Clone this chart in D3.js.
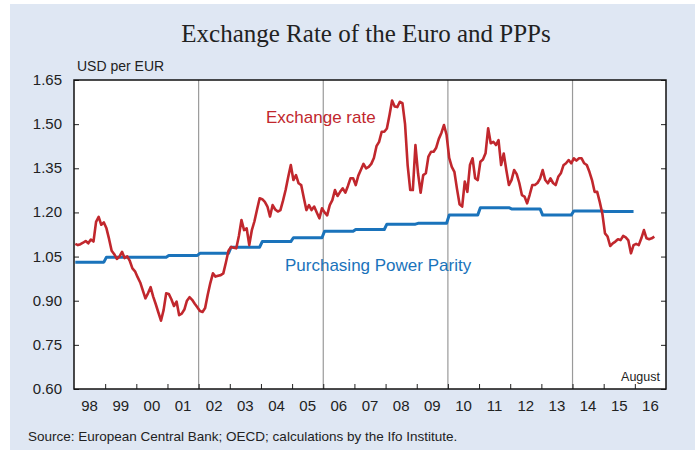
<!DOCTYPE html>
<html>
<head>
<meta charset="utf-8">
<script src="https://cdn.jsdelivr.net/npm/d3@7"></script>
<style>
html,body{margin:0;padding:0;background:#ffffff;}
svg{display:block;}
</style>
</head>
<body>
<svg id="chart" width="695" height="450"></svg>
<script>
// ---- data ----
const startYear = 1998;
const yearLabels = ["98","99","00","01","02","03","04","05","06","07","08","09","10","11","12","13","14","15","16"];
const yTicks = [0.60, 0.75, 0.90, 1.05, 1.20, 1.35, 1.50, 1.65];
const gridYears = [2002, 2006, 2010, 2014];
// monthly USD per EUR, Jan 1998 - Aug 2016
const exchangeRate = [
  1.093,1.089,1.092,1.097,1.103,1.095,1.108,1.101,1.168,1.185,1.158,1.166,
  1.146,1.110,1.070,1.058,1.042,1.050,1.066,1.045,1.051,1.035,1.010,1.000,
  0.980,0.962,0.935,0.908,0.925,0.946,0.914,0.888,0.860,0.832,0.868,0.925,
  0.923,0.905,0.882,0.897,0.851,0.856,0.870,0.900,0.912,0.903,0.890,0.878,
  0.865,0.862,0.875,0.920,0.960,0.993,0.982,0.985,0.987,0.993,1.030,1.070,
  1.083,1.080,1.078,1.120,1.174,1.140,1.146,1.089,1.140,1.170,1.210,1.248,
  1.245,1.236,1.220,1.186,1.225,1.210,1.203,1.208,1.240,1.276,1.320,1.361,
  1.310,1.327,1.299,1.293,1.250,1.208,1.225,1.208,1.220,1.200,1.180,1.214,
  1.200,1.190,1.225,1.242,1.276,1.256,1.270,1.282,1.267,1.290,1.316,1.316,
  1.293,1.325,1.345,1.365,1.350,1.355,1.365,1.385,1.425,1.440,1.474,1.474,
  1.485,1.530,1.580,1.560,1.558,1.576,1.571,1.500,1.360,1.276,1.276,1.429,
  1.333,1.267,1.327,1.333,1.390,1.406,1.406,1.420,1.450,1.470,1.497,1.463,
  1.385,1.355,1.338,1.280,1.228,1.220,1.305,1.270,1.361,1.384,1.316,1.310,
  1.372,1.380,1.401,1.486,1.435,1.440,1.429,1.446,1.361,1.400,1.344,1.293,
  1.310,1.344,1.330,1.300,1.259,1.254,1.231,1.260,1.293,1.293,1.300,1.315,
  1.344,1.310,1.299,1.316,1.300,1.293,1.321,1.333,1.360,1.367,1.378,1.367,
  1.384,1.376,1.384,1.384,1.367,1.361,1.338,1.310,1.270,1.270,1.235,1.195,
  1.129,1.118,1.086,1.095,1.101,1.109,1.106,1.120,1.115,1.105,1.061,1.089,
  1.093,1.089,1.112,1.140,1.112,1.109,1.112,1.118
];
// annual purchasing power parity, 1998 - 2015
const pppYears = [1998,1999,2000,2001,2002,2003,2004,2005,2006,2007,2008,2009,2010,2011,2012,2013,2014,2015];
const pppValues = [1.031,1.048,1.048,1.054,1.061,1.082,1.101,1.114,1.136,1.142,1.160,1.163,1.191,1.216,1.212,1.191,1.205,1.203];

// ---- layout ----
const svg = d3.select("#chart");
const L = 74, R = 666, T = 80, B = 389;
const x = d3.scaleLinear().domain([1998, 2017]).range([L, R]);
const y = d3.scaleLinear().domain([0.60, 1.65]).range([B, T]);
const SANS = "'Liberation Sans',Arial,sans-serif";

svg.append("rect").attr("x",10).attr("y",4).attr("width",685).attr("height",446).attr("fill","#dfe7f3");
svg.append("rect").attr("x",L).attr("y",T).attr("width",R-L).attr("height",B-T).attr("fill","#ffffff");

// title
svg.append("text").attr("x",366).attr("y",42).attr("text-anchor","middle")
  .attr("font-family","'Liberation Serif','Times New Roman',serif").attr("font-size",25).attr("fill","#222")
  .text("Exchange Rate of the Euro and PPPs");
svg.append("text").attr("x",77).attr("y",70.5)
  .attr("font-family",SANS).attr("font-size",14).attr("fill","#222")
  .text("USD per EUR");

// grid lines
svg.append("g").selectAll("line").data(gridYears).join("line")
  .attr("x1",d=>x(d)).attr("x2",d=>x(d)).attr("y1",T).attr("y2",B)
  .attr("stroke","#9a9a9a").attr("stroke-width",1.2);

// y axes
const yAxisL = d3.axisRight(y).tickValues(yTicks).tickSize(5).tickFormat("");
const gL = svg.append("g").attr("transform",`translate(${L},0)`).call(yAxisL);
const yAxisR = d3.axisLeft(y).tickValues(yTicks).tickSize(5).tickFormat("");
const gR = svg.append("g").attr("transform",`translate(${R},0)`).call(yAxisR);
[gL,gR].forEach(g=>{ g.select(".domain").remove(); g.selectAll("line").attr("stroke","#222"); });

svg.append("g").selectAll("text").data(yTicks).join("text")
  .attr("x",62).attr("y",d=>y(d)+5).attr("text-anchor","end")
  .attr("font-family",SANS).attr("font-size",15).attr("fill","#222")
  .text(d=>d3.format(".2f")(d));

// x axis
const yearTicks = d3.range(1999, 2017);
const xAxis = d3.axisTop(x).tickValues(yearTicks).tickSize(5).tickFormat("");
const gX = svg.append("g").attr("transform",`translate(0,${B})`).call(xAxis);
gX.select(".domain").remove();
gX.selectAll("line").attr("stroke","#222");
svg.append("g").selectAll("text").data(yearLabels).join("text")
  .attr("x",(d,i)=>x(startYear+i+0.5)).attr("y",411).attr("text-anchor","middle")
  .attr("font-family",SANS).attr("font-size",15).attr("fill","#222")
  .text(d=>d);

// frame
svg.append("rect").attr("x",L).attr("y",T).attr("width",R-L).attr("height",B-T)
  .attr("fill","none").attr("stroke","#111").attr("stroke-width",1.5);

// PPP line
const pppPoints = [];
pppYears.forEach((yr,i)=>{
  pppPoints.push([yr + 0.5/12, pppValues[i]]);
  pppPoints.push([yr + 11.5/12, pppValues[i]]);
});
const line = d3.line().x(d=>x(d[0])).y(d=>y(d[1]));
svg.append("path").attr("d",line(pppPoints)).attr("fill","none")
  .attr("stroke","#1a73bb").attr("stroke-width",3).attr("stroke-linejoin","round");

// exchange rate
const erPoints = exchangeRate.map((v,i)=>[startYear + (i+0.5)/12, v]);
svg.append("path").attr("d",line(erPoints)).attr("fill","none")
  .attr("stroke","#c1272d").attr("stroke-width",2.6).attr("stroke-linejoin","round");

// labels
svg.append("text").attr("x",266).attr("y",123)
  .attr("font-family",SANS).attr("font-size",17).attr("fill","#c1272d")
  .text("Exchange rate");
svg.append("text").attr("x",285).attr("y",271)
  .attr("font-family",SANS).attr("font-size",17).attr("fill","#1a73bb")
  .text("Purchasing Power Parity");
svg.append("text").attr("x",660).attr("y",381).attr("text-anchor","end")
  .attr("font-family",SANS).attr("font-size",12.5).attr("fill","#222")
  .text("August");

// source
svg.append("text").attr("x",28).attr("y",441)
  .attr("font-family",SANS).attr("font-size",13.5).attr("fill","#222")
  .text("Source: European Central Bank; OECD; calculations by the Ifo Institute.");
</script>
</body>
</html>
